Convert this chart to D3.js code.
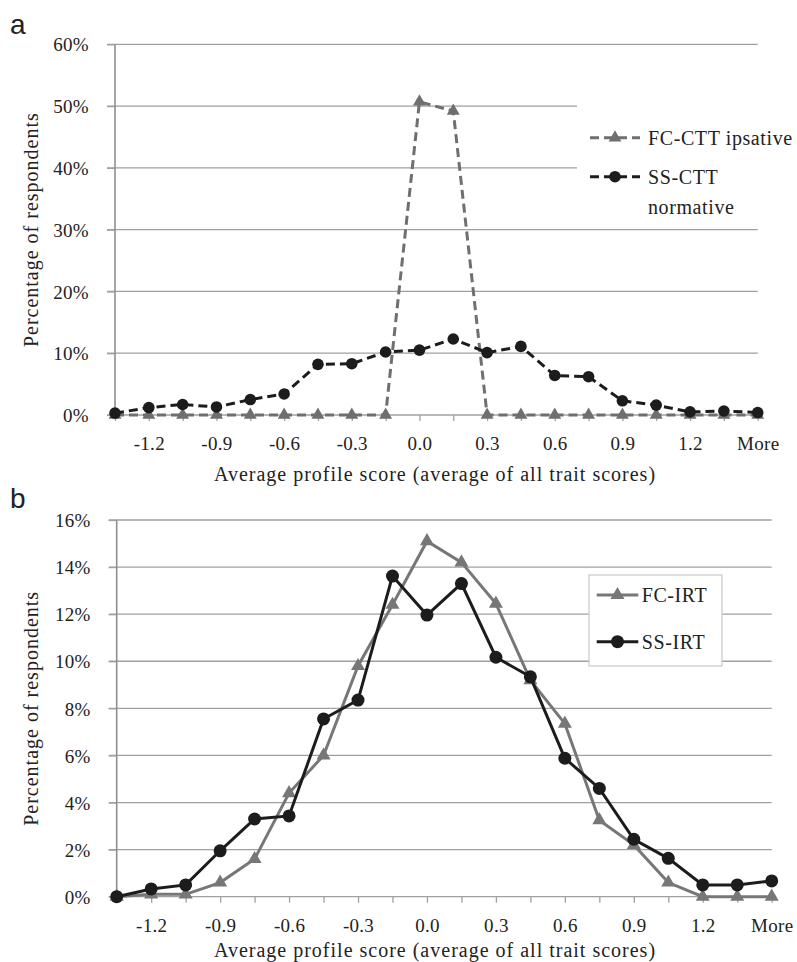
<!DOCTYPE html>
<meta charset="utf-8">
<style>
    body {
        margin: 0;
        background: #fff;
    }

    svg {
        font-family: "Liberation Serif", "Times New Roman", serif;
    }

    .tick text {
        font-family: "Liberation Serif", "Times New Roman", serif;
        font-size: 19px;
        fill: #222;
        letter-spacing: 0.3px;
    }

    .tick line {
        stroke: #a0a0a0;
        stroke-width: 1.3;
    }

    .grid line {
        stroke: #a0a0a0;
        stroke-width: 1.3;
    }

    .label {
        font-size: 20px;
        fill: #222;
        letter-spacing: 1px;
    }

    .legend-text {
        font-size: 20px;
        fill: #222;
        letter-spacing: 0.6px;
    }

    .panel-letter {
        font-family: "Liberation Sans", Arial, sans-serif;
        font-size: 28px;
        fill: #222;
    }
</style>
<body>
<script src="https://d3js.org/d3.v7.min.js"></script>
<script>
    // categories of the histogram (every other one gets a label)
    const categories = ["-1.35", "-1.2", "-1.05", "-0.9", "-0.75", "-0.6", "-0.45", "-0.3", "-0.15", "0.0",
        "0.15", "0.3", "0.45", "0.6", "0.75", "0.9", "1.05", "1.2", "1.35", "More"];
    const xTickLabels = ["-1.2", "-0.9", "-0.6", "-0.3", "0.0", "0.3", "0.6", "0.9", "1.2", "More"];

    // panel a (percent of respondents)
    const fcCtt = [0, 0, 0, 0, 0, 0, 0, 0, 0, 50.7, 49.2, 0, 0, 0, 0, 0, 0, 0, 0, 0];
    const ssCtt = [0.3, 1.2, 1.7, 1.3, 2.5, 3.4, 8.2, 8.3, 10.2, 10.5, 12.3, 10.1, 11.1, 6.4, 6.2, 2.3, 1.6, 0.5, 0.65, 0.4];
    const yTicksA = [0, 10, 20, 30, 40, 50, 60];

    // panel b
    const fcIrt = [0, 0.1, 0.1, 0.6, 1.6, 4.4, 6.0, 9.8, 12.4, 15.1, 14.2, 12.45, 9.2, 7.35, 3.25, 2.2, 0.6, 0, 0, 0];
    const ssIrt = [0, 0.33, 0.5, 1.95, 3.3, 3.43, 7.55, 8.35, 13.62, 11.96, 13.3, 10.17, 9.34, 5.88, 4.6, 2.44, 1.63, 0.5, 0.5, 0.67];
    const yTicksB = [0, 2, 4, 6, 8, 10, 12, 14, 16];

    const width = 797;
    const height = 962;

    const svg = d3.select('body')
        .append('svg')
        .attr('width', width)
        .attr('height', height);

    const gray = '#6f6f6f';
    const black = '#1c1c1c';

    const panels = [
        {
            letter: 'a', letterY: 34,
            left: 115, right: 757.7, bottom: 415, top: 44.3,
            yTicks: yTicksA, labelGap: 28.7, titleY: 481,
            series: [
                {name: 'FC-CTT ipsative', values: fcCtt, color: gray, dash: '9,5', marker: 'triangle', size: 72},
                {name: 'SS-CTT', name2: 'normative', values: ssCtt, color: black, dash: '9,5', marker: 'circle', r: 5.8}
            ],
            legend: {box: [577, 100, 240, 122], border: false, lineX: [590, 640], textX: 648, ys: [137.7, 176.7], lineGap: 30}
        },
        {
            letter: 'b', letterY: 508,
            left: 116.7, right: 771.7, bottom: 896.7, top: 520,
            yTicks: yTicksB, labelGap: 28.3, titleY: 957,
            series: [
                {name: 'FC-IRT', values: fcIrt, color: '#777', dash: null, marker: 'triangle', size: 85},
                {name: 'SS-IRT', values: ssIrt, color: black, dash: null, marker: 'circle', r: 6.5}
            ],
            legend: {box: [589, 575, 133, 91], border: true, lineX: [596.7, 638.3], textX: 641.7, ys: [595, 641.7]}
        }
    ];

    panels.forEach(drawPanel);

    function drawMarker(g, s, cx, cy) {
        if (s.marker === 'circle') {
            g.append('circle')
                .attr('cx', cx)
                .attr('cy', cy)
                .attr('r', s.r)
                .style('fill', s.color);
        } else {
            g.append('path')
                .attr('d', d3.symbol().type(d3.symbolTriangle).size(s.size))
                .attr('transform', 'translate(' + cx + ',' + cy + ')')
                .style('fill', s.color);
        }
    }

    function drawPanel(p) {
        const g = svg.append('g').attr('class', 'panel');

        const x = d3.scalePoint()
            .domain(categories)
            .range([p.left, p.right]);

        const y = d3.scaleLinear()
            .domain([0, d3.max(p.yTicks)])
            .range([p.bottom, p.top]);

        // horizontal gridlines
        g.append('g')
            .attr('class', 'grid')
            .selectAll('line')
            .data(p.yTicks)
            .enter().append('line')
            .attr('x1', p.left - 8)
            .attr('x2', p.right)
            .attr('y1', d => y(d))
            .attr('y2', d => y(d));

        // y axis
        const yAxis = d3.axisLeft(y)
            .tickValues(p.yTicks)
            .tickSize(8)
            .tickPadding(18)
            .tickFormat(d => d + '%');
        const ya = g.append('g')
            .attr('transform', 'translate(' + p.left + ',0)')
            .call(yAxis);
        ya.select('.domain').remove();
        ya.selectAll('text').attr('dy', '0.35em');

        g.append('line')
            .attr('x1', p.left).attr('x2', p.left)
            .attr('y1', p.top).attr('y2', p.bottom)
            .style('stroke', '#8f8f8f')
            .style('stroke-width', 1.6);

        // x axis
        const xAxis = d3.axisBottom(x)
            .tickSize(6)
            .tickFormat(d => xTickLabels.indexOf(d) >= 0 ? d : '');
        const xa = g.append('g')
            .attr('transform', 'translate(0,' + p.bottom + ')')
            .call(xAxis);
        xa.select('.domain').remove();
        xa.selectAll('text')
            .attr('y', p.labelGap)
            .attr('dy', '0.35em');

        // legend box (drawn over the gridlines)
        const lg = p.legend;
        g.append('rect')
            .attr('x', lg.box[0])
            .attr('y', lg.box[1])
            .attr('width', lg.box[2])
            .attr('height', lg.box[3])
            .style('fill', '#fff')
            .style('stroke', lg.border ? '#c8c8c8' : 'none')
            .style('stroke-width', 1.2);

        // series
        const line = d3.line()
            .x((d, i) => x(categories[i]))
            .y(d => y(d));

        p.series.forEach(s => {
            g.append('path')
                .datum(s.values)
                .attr('d', line)
                .style('fill', 'none')
                .style('stroke', s.color)
                .style('stroke-width', 3)
                .style('stroke-dasharray', s.dash);

            s.values.forEach((v, i) => drawMarker(g, s, x(categories[i]), y(v)));
        });

        // legend entries
        p.series.forEach((s, i) => {
            const ly = lg.ys[i];
            g.append('line')
                .attr('x1', lg.lineX[0]).attr('x2', lg.lineX[1])
                .attr('y1', ly).attr('y2', ly)
                .style('stroke', s.color)
                .style('stroke-width', 3)
                .style('stroke-dasharray', s.dash);
            drawMarker(g, s, (lg.lineX[0] + lg.lineX[1]) / 2, ly);
            g.append('text')
                .attr('class', 'legend-text')
                .attr('x', lg.textX)
                .attr('y', ly)
                .attr('dy', '0.35em')
                .text(s.name);
            if (s.name2) {
                g.append('text')
                    .attr('class', 'legend-text')
                    .attr('x', lg.textX)
                    .attr('y', ly + lg.lineGap)
                    .attr('dy', '0.35em')
                    .text(s.name2);
            }
        });

        // axis titles
        g.append('text')
            .attr('class', 'label')
            .attr('x', 435)
            .attr('y', p.titleY)
            .style('text-anchor', 'middle')
            .text('Average profile score (average of all trait scores)');

        g.append('text')
            .attr('class', 'label')
            .attr('transform', 'translate(38,' + (p.top + p.bottom) / 2 + ') rotate(-90)')
            .style('text-anchor', 'middle')
            .text('Percentage of respondents');

        svg.append('text')
            .attr('class', 'panel-letter')
            .attr('x', 10)
            .attr('y', p.letterY)
            .text(p.letter);
    }
</script>
</body>
</html>
